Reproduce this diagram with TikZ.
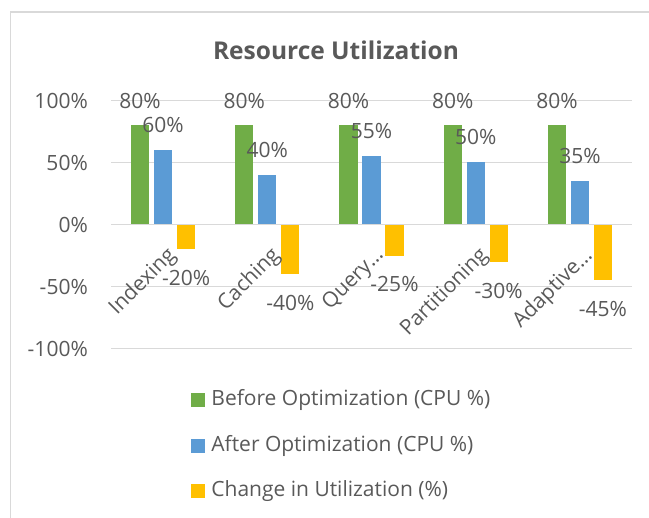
\documentclass[tikz,border=0pt]{standalone}
\usepackage{fontspec}
\setmainfont{Open Sans}
\usetikzlibrary{positioning}
\definecolor{gridgray}{HTML}{D9D9D9}
\definecolor{textgray}{HTML}{595959}
\definecolor{beforegreen}{HTML}{70AD47}
\definecolor{afterblue}{HTML}{5B9BD5}
\definecolor{changeyellow}{HTML}{FFC000}
\newcommand*{\catgroup}[6]{%
  \node [bar, fill=beforegreen, anchor=south, minimum height=#3*1.24pt]
        (#1-before) at (#2-23, 224.5) {};
  \node [bar, fill=afterblue, anchor=south, minimum height=#4*1.24pt]
        (#1-after) at (#2, 224.5) {};
  \node [bar, fill=changeyellow, anchor=north, minimum height=#5*1.24pt]
        (#1-change) at (#2+23, 224.5) {};
  \node [value] (#1-before-val) at ([yshift=24pt]#1-before.north) {#3\%};
  \node [value] (#1-after-val) at ([yshift=25pt]#1-after.north) {#4\%};
  \node [value] (#1-change-val) at ([yshift=-28.5pt]#1-change.south) {-#5\%};
  \node [category] (#1-name) at (#2+2, 245) {#6};
}

\begin{document}
\begin{tikzpicture}[x=1pt, y=-1pt,
    bar/.style={inner sep=0, minimum width=18.3pt},
    value/.style={inner sep=0, text=textgray,
                  font=\fontsize{21}{25}\selectfont},
    axislabel/.style={value, anchor=east},
    category/.style={value, rotate=45, anchor=north east},
    legendkey/.style={fill=#1, inner sep=0, minimum size=14pt},
    legendtext/.style={value, anchor=west},
    grid line/.style={draw=gridgray, line width=1.3pt}]
\useasboundingbox (0,0) rectangle (649,518);

% chart frame
\draw [gridgray, line width=1.5pt] (10.5,518) -- (10.5,12) -- (649,12);

\node [text=textgray, font=\fontsize{24.5}{29}\selectfont\bfseries]
      (title) at (336,50) {Resource Utilization};

% value axis
\path [grid line] (111,100.5) -- (632,100.5);
\path [grid line] (111,162.5) -- (632,162.5);
\path [grid line] (111,286.5) -- (632,286.5);
\path [grid line] (111,348.5) -- (632,348.5);
\path [grid line] (111,224.5) -- (632,224.5);
\node [axislabel] (tick-p100) at (88,100.5) {100\%};
\node [axislabel] (tick-p50)  at (88,162.5) {50\%};
\node [axislabel] (tick-0)    at (88,224.5) {0\%};
\node [axislabel] (tick-m50)  at (88,286.5) {-50\%};
\node [axislabel] (tick-m100) at (88,348.5) {-100\%};

% bars
\catgroup{indexing}{163.1}{80}{60}{20}{Indexing}
\catgroup{caching}{267.3}{80}{40}{40}{Caching}
\catgroup{query}{371.5}{80}{55}{25}{Query…}
\catgroup{partitioning}{475.7}{80}{50}{30}{Partitioning}
\catgroup{adaptive}{579.9}{80}{35}{45}{Adaptive…}

% legend
\node [legendkey=beforegreen] (key-before) at (198,400) {};
\node [legendtext, right=6pt of key-before] (text-before)
      {Before Optimization (CPU \%)};
\node [legendkey=afterblue] (key-after) at (198,446) {};
\node [legendtext, right=6pt of key-after] (text-after)
      {After Optimization (CPU \%)};
\node [legendkey=changeyellow] (key-change) at (198,491) {};
\node [legendtext, right=6pt of key-change] (text-change)
      {Change in Utilization (\%)};
\end{tikzpicture}
\end{document}
